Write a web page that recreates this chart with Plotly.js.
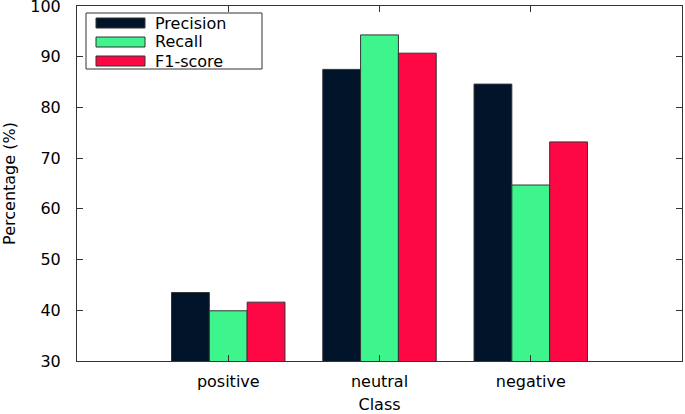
<!DOCTYPE html>
<html><head><meta charset="utf-8">
<script src="https://cdn.plot.ly/plotly-3.0.1.min.js"></script>
<style>html,body{margin:0;padding:0;background:#fff}#c{width:685px;height:414px}</style>
</head><body><div id="c"></div>
<script>
const categories = ["positive", "neutral", "negative"];
const seriesNames = ["Precision", "Recall", "F1-score"];
const precision = [43.5, 87.5, 84.6];
const recall = [39.9, 94.3, 64.7];
const f1score = [41.6, 90.7, 73.2];
const yTicks = [30, 40, 50, 60, 70, 80, 90, 100];

const colors = ["#02142a", "#3ef58d", "#fe0745"];
const values = [precision, recall, f1score];
const xIdx = categories.map((c, i) => i);

const traces = values.map((v, k) => ({
  type: "bar", x: xIdx, y: v, name: seriesNames[k],
  marker: {color: colors[k], line: {color: "#333", width: 1}},
  showlegend: false, hoverinfo: "skip"
}));

const L = 77, R = 682, T = 6, B = 361, W = 685, H = 414;
const px = x => (x - L) / (R - L);
const py = y => (B - y) / (B - T);
const shapes = [
  {type: "rect", xref: "paper", yref: "paper", x0: px(86), x1: px(262), y0: py(69), y1: py(13),
   line: {color: "#333", width: 1}, fillcolor: "#fff", layer: "above"}
];
const annotations = [];
seriesNames.forEach((n, k) => {
  const yc = 23 + k * 19;
  shapes.push({type: "rect", xref: "paper", yref: "paper", x0: px(96), x1: px(145), y0: py(yc + 5), y1: py(yc - 5),
    line: {color: "#333", width: 1}, fillcolor: colors[k], layer: "above"});
  annotations.push({xref: "paper", yref: "paper", x: px(153), y: py(yc), text: n, showarrow: false,
    xanchor: "left", yanchor: "middle", font: {family: "DejaVu Sans", size: 16, color: "#000"}});
});

const layout = {
  width: W, height: H,
  margin: {l: L, r: W - R, t: T, b: H - B},
  paper_bgcolor: "#fff", plot_bgcolor: "#fff",
  barmode: "group", bargap: 0.25, bargroupgap: 0,
  font: {family: "DejaVu Sans", size: 16, color: "#000"},
  xaxis: {
    range: [-1, 3], tickvals: xIdx, ticktext: categories,
    ticks: "inside", ticklen: 6, tickcolor: "#333", mirror: "ticks",
    showline: true, linecolor: "#333", linewidth: 1, showgrid: false, zeroline: false,
    tickfont: {family: "DejaVu Sans", size: 16}, ticklabelstandoff: 6,
    title: {text: "Class", font: {family: "DejaVu Sans", size: 16}, standoff: 12}
  },
  yaxis: {
    range: [30, 100], tickvals: yTicks,
    ticks: "inside", ticklen: 6, tickcolor: "#333", mirror: "ticks",
    showline: true, linecolor: "#333", linewidth: 1, showgrid: false, zeroline: false,
    tickfont: {family: "DejaVu Sans", size: 16}, ticklabelstandoff: 12, ticklabeloverflow: "allow",
    title: {text: "Percentage (%)", font: {family: "DejaVu Sans", size: 16}, standoff: 10}
  },
  shapes: shapes, annotations: annotations
};
Plotly.newPlot("c", traces, layout, {staticPlot: true});
</script></body></html>
